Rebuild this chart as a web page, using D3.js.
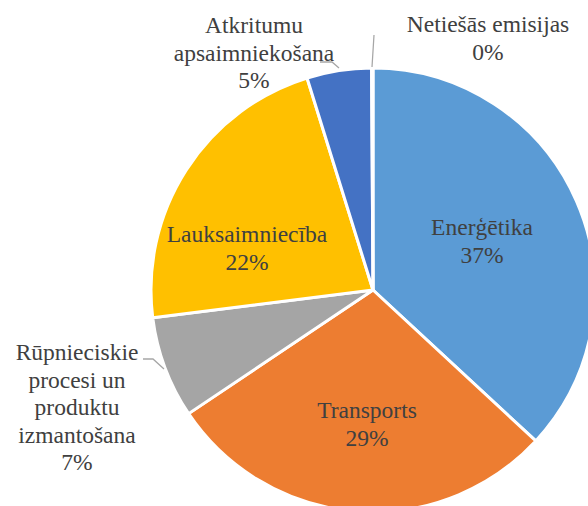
<!DOCTYPE html>
<html><head><meta charset="utf-8">
<script src="https://cdn.jsdelivr.net/npm/d3@7"></script>
<style>html,body{margin:0;padding:0;background:#fff;overflow:hidden}</style>
</head><body><svg id="c" width="588" height="506" font-family="Liberation Serif"></svg>
<script>
const categories = ["Enerģētika","Transports","Rūpnieciskie procesi un produktu izmantošana","Lauksaimniecība","Atkritumu apsaimniekošana","Netiešās emisijas"];
const values = [36.9, 28.7, 7.4, 22.2, 4.7, 0.1];
const percentLabels = ["37%","29%","7%","22%","5%","0%"];
const labelLines = [["Enerģētika"],["Transports"],["Rūpnieciskie","procesi un","produktu","izmantošana"],["Lauksaimniecība"],["Atkritumu","apsaimniekošana"],["Netiešās emisijas"]];
const colors = ["#5B9BD5","#ED7D31","#A5A5A5","#FFC000","#4472C4","#70AD47"];

// layout (label anchor positions relative to pie center, first-line baseline)
const cx = 373, cy = 290, R = 222;
const labelPos = [[109,-55],[-6,128],[-296,70],[-126,-48],[-119,-257],[115,-258]];
const leaders = [null,null,[[-230,69],[-220,69],[-209,79]],null,[[-53,-228],[-41,-228],[-34,-222]],[[1,-255],[-1,-223]]];

const svg = d3.select("#c");
const g = svg.append("g").attr("transform",`translate(${cx},${cy})`);
const pie = d3.pie().sort(null).value(d=>d)(values);
const arc = d3.arc().innerRadius(0).outerRadius(R);
g.selectAll("path.s").data(pie).join("path").attr("class","s")
  .attr("d",arc).attr("fill",(d,i)=>colors[i]).attr("stroke","#fff").attr("stroke-width",3).attr("stroke-linejoin","round");

const line = d3.line();
leaders.forEach(l=>{ if(l) g.append("path").attr("d",line(l)).attr("fill","none").attr("stroke","#A6A6A6").attr("stroke-width",1.3); });

const fs = 23.5, lh = 27.5;
categories.forEach((c,i)=>{
  const t = g.append("text").attr("font-family","Liberation Serif")
    .style("font-family",'"Liberation Serif", "Times New Roman", serif',"important")
    .style("font-size",fs+"px").attr("fill","#404040").attr("text-anchor","middle");
  const lines = labelLines[i].concat([percentLabels[i]]);
  lines.forEach((s,k)=>{ t.append("tspan").attr("x",labelPos[i][0]).attr("y",labelPos[i][1]+k*lh)
    .style("font-family",'"Liberation Serif", "Times New Roman", serif',"important").text(s); });
});
</script></body></html>
